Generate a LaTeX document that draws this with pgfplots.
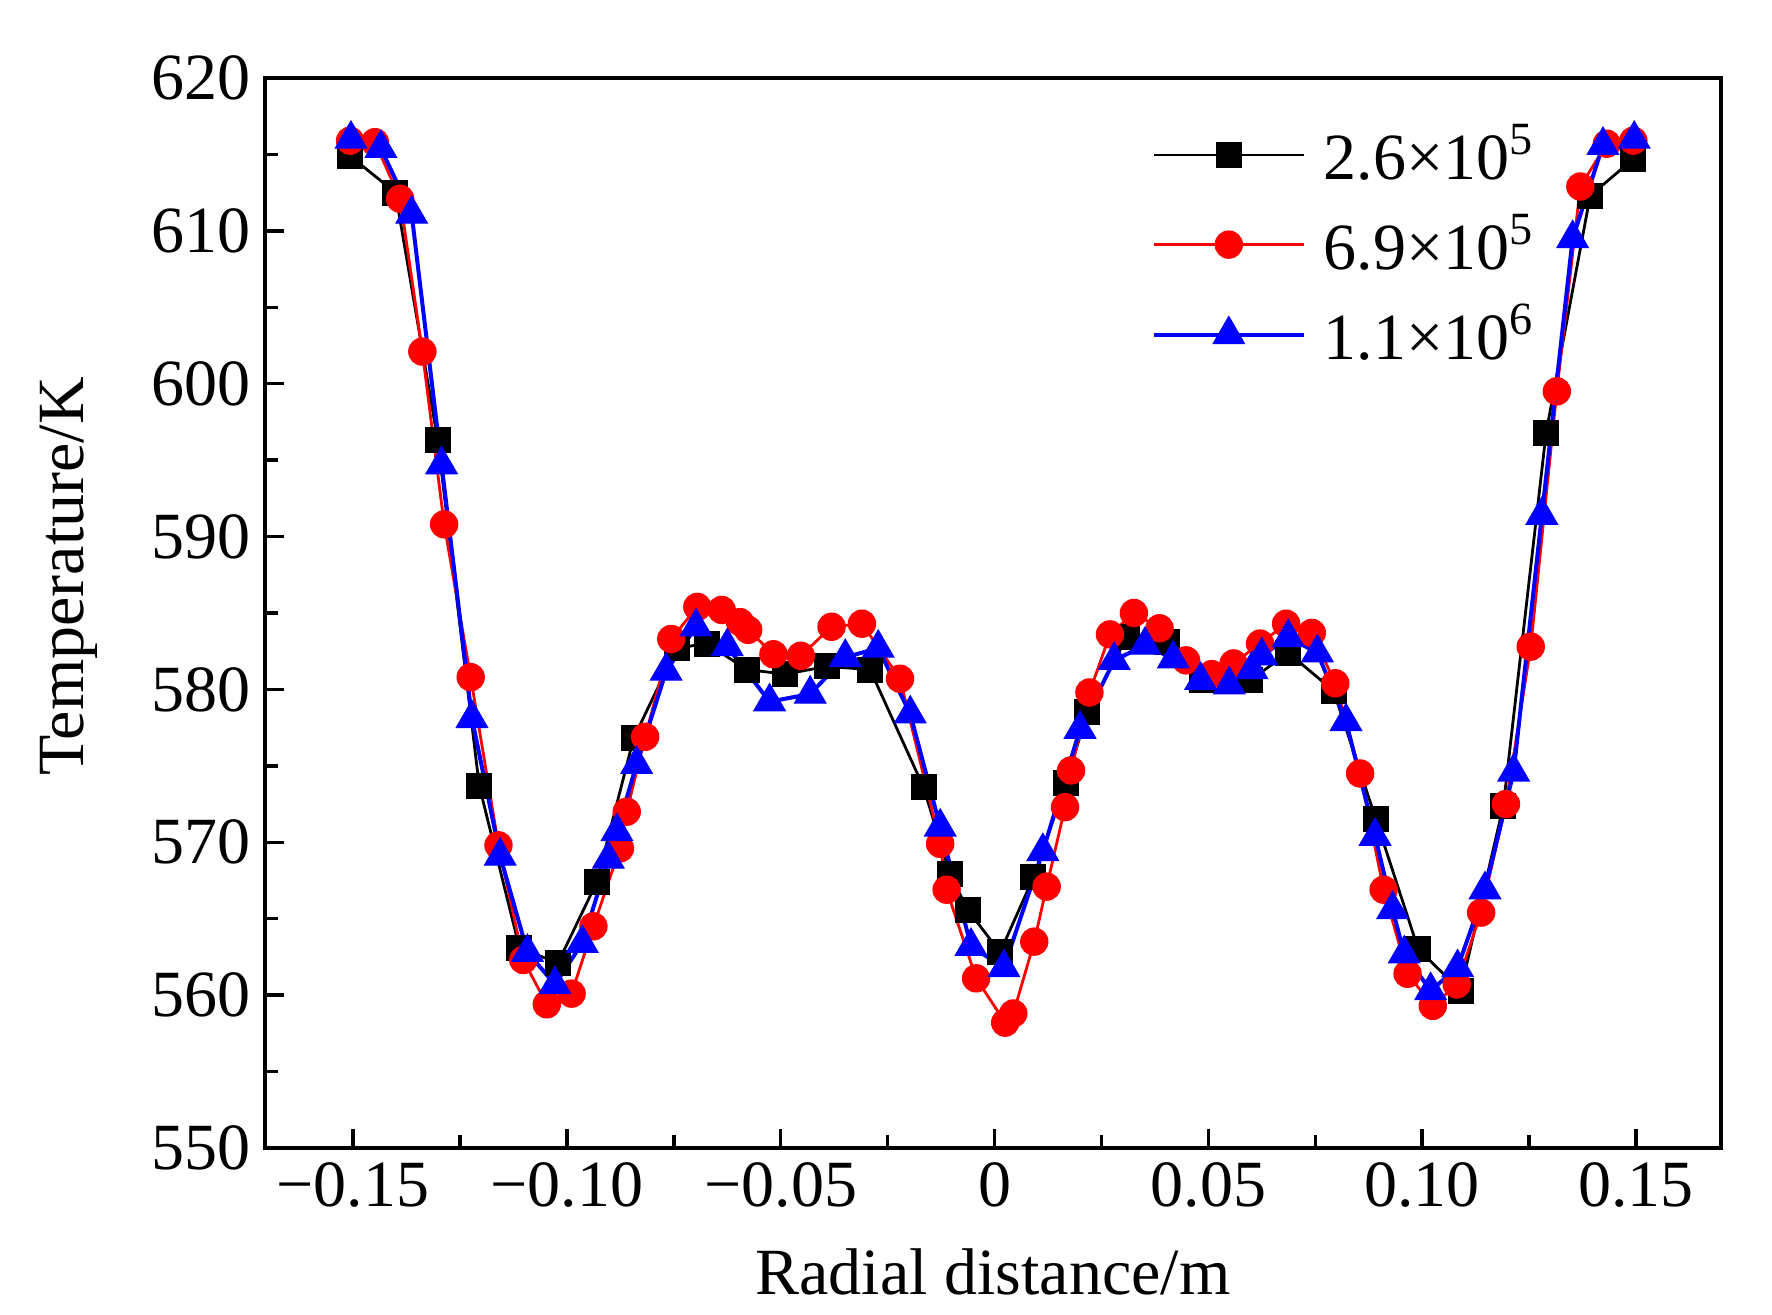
\documentclass[border=0pt]{standalone}
\usepackage{fontspec}
\setmainfont{Liberation Serif}
\usepackage{pgfplots}
\pgfplotsset{compat=1.18}
\newcommand{\fs}{\fontsize{16.5}{19.8}\selectfont}
\begin{document}
\begin{tikzpicture}
\begin{axis}[
  name=ax,
  scale only axis,
  width=364pt, height=267.5pt,
  xmin=-0.1706, xmax=0.1699,
  ymin=550, ymax=620,
  axis line style={line width=0.85pt},
  tick pos=left,
  tick align=inside,
  major tick length=4.7pt,
  minor tick length=3.3pt,
  every tick/.style={black, line width=0.85pt},
  xtick={-0.15,-0.1,-0.05,0,0.05,0.1,0.15},
  xticklabels={−0.15,−0.10,−0.05,0,0.05,0.10,0.15},
  minor xtick={-0.125,-0.075,-0.025,0.025,0.075,0.125},
  ytick={550,560,570,580,590,600,610,620},
  yticklabels={550,560,570,580,590,600,610,620},
  minor ytick={555,565,575,585,595,605,615},
  tick label style={font=\fs},
  xlabel={Radial distance/m},
  ylabel={Temperature/K},
  label style={font=\fs},
  xlabel style={at={(axis description cs:0.5,-0.137)}, anchor=base},
  ylabel style={at={(axis description cs:-0.135,0.534)}, anchor=center, rotate=0},
  legend cell align=left,
  legend style={font=\fs, draw=none, fill=none, inner sep=0pt,
    at={(rel axis cs:0.6085,0.965)}, anchor=north west,
    column sep=2.5pt, row sep=3.1pt},
  legend image code/.code={
    \draw[mark repeat=2,mark phase=2] plot coordinates {(0pt,0pt) (18.75pt,0pt) (37.5pt,0pt)};
  },
]
\addplot[black, line width=0.7pt, mark=square*, mark size=3.1pt,
  mark options={solid, fill=black, draw=black, line width=0.3pt}] coordinates {
(-0.1507,614.9) (-0.1401,612.5) (-0.1302,596.3) (-0.1205,573.7) (-0.1111,563.1)
(-0.1021,562.1) (-0.0930,567.4) (-0.0844,576.8) (-0.0743,582.7) (-0.0673,583.0)
(-0.0579,581.3) (-0.0490,581.0) (-0.0392,581.5) (-0.0291,581.3) (-0.0166,573.6)
(-0.0104,567.9) (-0.0063,565.6) (0.0013,562.8) (0.0091,567.7) (0.0167,573.9)
(0.0217,578.5) (0.0309,583.4) (0.0404,583.1) (0.0485,580.6) (0.0598,580.6)
(0.0687,582.4) (0.0793,579.9) (0.0892,571.5) (0.0991,563.0) (0.1090,560.3)
(0.1190,572.4) (0.1290,596.8) (0.1393,612.3) (0.1494,614.7)
};
\addlegendentry{2.6×10\textsuperscript{5}}
\addplot[red, line width=0.7pt, mark=*, mark size=3.4pt,
  mark options={solid, fill=red, draw=red, line width=0.3pt}] coordinates {
(-0.1507,615.9) (-0.1449,615.8) (-0.1390,612.1) (-0.1338,602.1) (-0.1287,590.8)
(-0.1225,580.8) (-0.1160,569.8) (-0.1102,562.3) (-0.1047,559.4) (-0.0989,560.1)
(-0.0938,564.5) (-0.0876,569.6) (-0.0860,572.0) (-0.0817,576.9) (-0.0756,583.3)
(-0.0695,585.4) (-0.0638,585.2) (-0.0595,584.4) (-0.0576,583.9) (-0.0517,582.3)
(-0.0453,582.2) (-0.0381,584.1) (-0.0310,584.3) (-0.0221,580.7) (-0.0127,569.9)
(-0.0112,566.9) (-0.0043,561.1) (0.0025,558.2) (0.0044,558.8) (0.0093,563.5)
(0.0122,567.1) (0.0165,572.3) (0.0179,574.7) (0.0222,579.8) (0.0270,583.6)
(0.0326,585.0) (0.0386,584.0) (0.0448,581.9) (0.0508,581.0) (0.0559,581.7)
(0.0621,583.0) (0.0682,584.3) (0.0742,583.7) (0.0797,580.4) (0.0855,574.5)
(0.0910,566.9) (0.0966,561.4) (0.1025,559.3) (0.1081,560.7) (0.1138,565.4)
(0.1196,572.5) (0.1254,582.8) (0.1315,599.5) (0.1370,612.9) (0.1432,615.7)
(0.1494,615.9)
};
\addlegendentry{6.9×10\textsuperscript{5}}
\addplot[blue, line width=1.0pt, mark=triangle*, mark size=4.5pt,
  mark options={solid, fill=blue, draw=blue, line width=0.3pt}] coordinates {
(-0.1505,616.0) (-0.1435,615.4) (-0.1363,611.1) (-0.1293,594.7) (-0.1222,578.1)
(-0.1156,569.1) (-0.1092,562.8) (-0.1028,560.7) (-0.0964,563.4) (-0.0903,568.9)
(-0.0883,570.7) (-0.0837,575.1) (-0.0768,581.2) (-0.0698,584.1) (-0.0625,582.8)
(-0.0526,579.2) (-0.0431,579.7) (-0.0349,582.1) (-0.0272,582.7) (-0.0197,578.4)
(-0.0127,571.0) (-0.0055,563.2) (0.0022,561.8) (0.0113,569.4) (0.0200,577.4)
(0.0280,581.9) (0.0352,582.9) (0.0418,582.0) (0.0482,580.6) (0.0549,580.3)
(0.0602,581.3) (0.0625,582.2) (0.0687,583.4) (0.0755,582.4) (0.0822,577.9)
(0.0890,570.4) (0.0931,565.6) (0.0958,562.7) (0.1020,560.3) (0.1083,561.8)
(0.1147,566.9) (0.1214,574.6) (0.1280,591.4) (0.1352,609.5) (0.1423,615.6)
(0.1496,616.0)
};
\addlegendentry{1.1×10\textsuperscript{6}}
\end{axis}
\pgfresetboundingbox
\path[use as bounding box] ([xshift=-66.25pt,yshift=-41.5pt]ax.south west) rectangle ([xshift=12.75pt,yshift=19.5pt]ax.north east);
\end{tikzpicture}
\end{document}
